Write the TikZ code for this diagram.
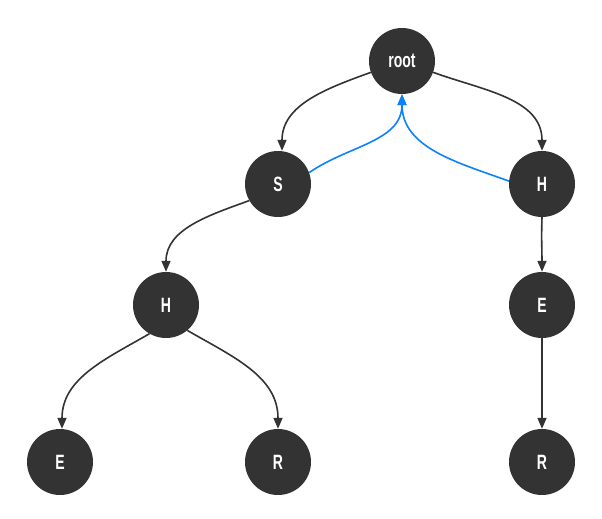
\documentclass[tikz,border=0pt]{standalone}
\usepackage{fontspec}
\setmainfont{Liberation Sans}
\usetikzlibrary{arrows.meta}
\definecolor{dark}{HTML}{333333}
\definecolor{blu}{HTML}{0C82FA}
\newcommand{\lbl}[1]{\scalebox{0.78}[1.15]{#1}}
\begin{document}
\begin{tikzpicture}[x=1pt,y=-1pt,
  tnode/.style={circle,fill=dark,draw=none,minimum size=66pt,inner sep=0pt,text=white,font=\bfseries\fontsize{18}{18}\selectfont},
  edge/.style={draw=dark,line width=1.6pt,-{Triangle[length=11pt,width=9pt]}},
  back/.style={draw=blu,line width=1.6pt,-{Triangle[length=11pt,width=9pt]}}]
\useasboundingbox (0,0) rectangle (602,519);
\node[tnode] (root) at (402,61) {\lbl{root}};
\node[tnode] (s) at (278,184) {\lbl{S}};
\node[tnode] (h1) at (542,184) {\lbl{H}};
\node[tnode] (h2) at (166,305) {\lbl{H}};
\node[tnode] (e1) at (542,305) {\lbl{E}};
\node[tnode] (e2) at (60,462) {\lbl{E}};
\node[tnode] (r1) at (278,462) {\lbl{R}};
\node[tnode] (r2) at (542,462) {\lbl{R}};
\draw[edge] (root.200) to[out=200,in=90] ([xshift=4pt]s.north);
\draw[edge] (root.-20) to[out=-20,in=90] (h1.north);
\draw[back] (s.20) to[out=35,in=-90] (root.south);
\draw[back] (h1.175) to[out=160,in=-90] (root.south);
\draw[edge] (s.210) to[out=200,in=90] (h2.north);
\draw[edge] (h2.240) to[out=210,in=90] ([xshift=2pt]e2.north);
\draw[edge] (h2.310) to[out=-30,in=90] (r1.north);
\draw[edge] (h1.south) to[out=-92,in=90] (e1.north);
\draw[edge] (e1.south) -- (r2.north);
\end{tikzpicture}
\end{document}
